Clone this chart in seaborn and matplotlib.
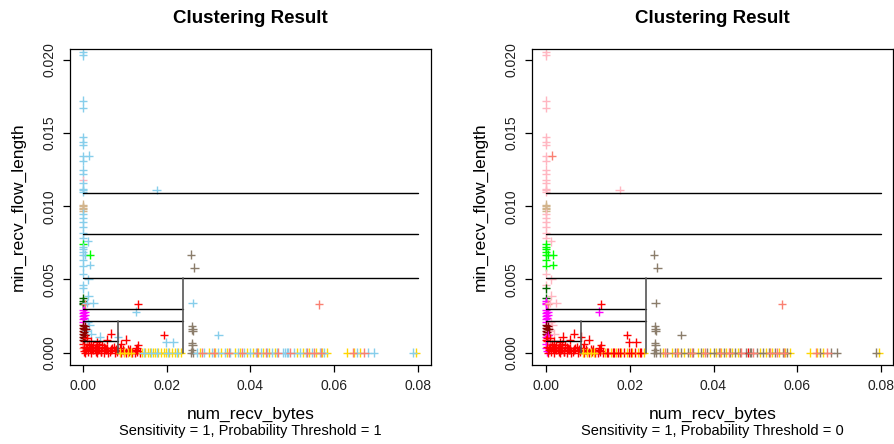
import matplotlib
matplotlib.use("Agg")
import matplotlib.pyplot as plt
import seaborn as sns
import pandas as pd

# ---------------- data ----------------
# points in the x = 0 column and the upper part of the plot
upper_x = [0, 0, 0, 0, 0, 0, 0, 0, 0.0014, 0, 0, 0, 0, 0, 0, 0, 0, 0.0176,
           0, 0, 0, 0, 0, 0, 0, 0, 0, 0, 0, 0.0011,
           0, 0, 0, 0, 0.0005, 0, 0.0017, 0, 0.0017, 0, 0, 0.0013, 0, 0, 0.0013]
upper_y = [0.0205, 0.0203, 0.0172, 0.0167, 0.0147, 0.0144, 0.0142, 0.0134, 0.01345, 0.0131,
           0.0125, 0.0122, 0.0118, 0.01155, 0.0112, 0.0111, 0.0110, 0.0111,
           0.0101, 0.0100, 0.0099, 0.0098, 0.0097, 0.0095, 0.0092, 0.0089, 0.0086, 0.00815, 0.0078, 0.0076,
           0.0074, 0.0072, 0.0071, 0.0069, 0.0067, 0.0067, 0.0067, 0.0063, 0.0060, 0.0059, 0.0054,
           0.0050, 0.0046, 0.0044, 0.0039]
upper_c1 = ["SB", "SB", "SB", "SB", "SB", "SB", "SB", "SB", "SB", "SB", "SB", "SB", "PK", "SB", "SB", "SB", "SB", "SB",
            "TN", "TN", "TN", "TN", "TN", "SB", "SB", "SB", "SB", "SB", "SB", "SB",
            "GR", "SB", "SB", "SB", "SB", "SB", "GR", "SB", "SB", "SB", "SB", "SB", "SB", "SB", "SB"]
upper_c0 = ["PK", "PK", "PK", "PK", "PK", "PK", "PK", "PK", "SA", "PK", "PK", "PK", "PK", "PK", "PK", "PK", "PK", "PK",
            "TN", "TN", "TN", "TN", "TN", "PK", "PK", "PK", "PK", "PK", "PK", "PK",
            "GR", "GR", "GR", "GR", "GR", "GR", "GR", "GR", "GR", "GR", "PK", "PK", "PK", "DG", "PK"]

# points in the lower-left region (below the third split)
lower_x = [0, 0, 0, 0, 0.0005, 0.0009, 0.0025, 0.0131, 0.0127, 0.0262,
           0, 0, 0, 0, 0, 0.0012, 0.0015, 0.0003, 0.0002, 0.0004,
           0, 0, 0.0003, 0, 0, 0.0003, 0, 0, 0.0008, 0.002, 0.004, 0.0084,
           0.0004, 0.0002, 0.0005, 0.0003, 0.0006, 0.0002,
           0.0258, 0.0266, 0.026, 0.0261, 0.0262, 0.026, 0.0261, 0.026, 0.0258, 0.0263,
           0.0323, 0.0198, 0.0216, 0.0193, 0.0564,
           0.0067, 0.0057, 0.0102, 0.0091, 0.0131, 0.0128, 0.0045, 0.0038, 0.0030, 0.0020,
           0.0010, 0.0015, 0, 0, 0.0003, 0.0025, 0.0033, 0.0052, 0.0074, 0.0113]
lower_y = [0.0037, 0.0035, 0.0034, 0.0033, 0.0033, 0.0034, 0.0034, 0.0033, 0.0028, 0.0034,
           0.0029, 0.0027, 0.0025, 0.0023, 0.0021, 0.0021, 0.0019, 0.0028, 0.0024, 0.0026,
           0.0019, 0.0017, 0.0016, 0.0015, 0.0013, 0.0012, 0.0011, 0.0009, 0.0015, 0.0013, 0.0011, 0.0011,
           0.0018, 0.0014, 0.0012, 0.0010, 0.0016, 0.0008,
           0.0067, 0.0058, 0.0018, 0.0016, 0.0015, 0.00065, 0.0005, 0.0002, 0.0, 0.0,
           0.0012, 0.0007, 0.0007, 0.0012, 0.0033,
           0.0013, 0.0009, 0.0009, 0.0006, 0.0005, 0.0003, 0.0005, 0.0006, 0.0004, 0.0008,
           0.0010, 0.0006, 0.0006, 0.0003, 0.0001, 0.0005, 0.0007, 0.0003, 0.0004, 0.0002]
lower_c1 = ["DG", "DG", "DG", "DG", "SA", "SB", "SB", "RD", "SB", "SB",
            "MG", "MG", "MG", "MG", "MG", "SB", "SB", "MG", "MG", "MG",
            "DR", "DR", "DR", "DR", "DR", "DR", "DR", "DR", "SB", "SB", "SB", "SB",
            "DR", "DR", "DR", "DR", "DR", "DR",
            "BG", "BG", "BG", "BG", "BG", "BG", "BG", "BG", "BG", "BG",
            "SB", "SB", "SB", "RD", "SA",
            "RD", "RD", "RD", "RD", "RD", "RD", "RD", "RD", "RD", "RD",
            "RD", "RD", "RD", "SA", "RD", "RD", "RD", "RD", "RD", "RD"]
lower_c0 = ["DG", "MG", "MG", "MG", "SA", "PK", "PK", "RD", "MG", "BG",
            "MG", "MG", "MG", "MG", "MG", "PK", "PK", "MG", "MG", "MG",
            "DR", "DR", "DR", "DR", "DR", "DR", "MG", "RD", "PK", "PK", "RD", "RD",
            "DR", "DR", "MG", "RD", "DR", "RD",
            "BG", "BG", "BG", "BG", "BG", "BG", "BG", "BG", "BG", "BG",
            "BG", "RD", "RD", "RD", "SA",
            "RD", "RD", "RD", "RD", "RD", "RD", "RD", "RD", "RD", "RD",
            "RD", "RD", "MG", "MG", "MG", "RD", "RD", "RD", "RD", "RD"]

# dense red strip near the origin
red_x = [0.0005, 0.0008, 0.0012, 0.0016, 0.002, 0.0025, 0.003, 0.0034, 0.0039, 0.0044,
         0.0049, 0.0054, 0.006, 0.0065, 0.007, 0.0076, 0.0082, 0.009, 0.0096, 0.0102,
         0.011, 0.0117, 0.0123, 0.013, 0.0136, 0.001, 0.0022, 0.0036, 0.005, 0.0068, 0.0088, 0.0108,
         0.0003, 0.0007, 0.0014, 0.0019, 0.0028, 0.0042, 0.0057, 0.0079, 0.0099, 0.0127]
red_y = [0.0, 0.0002, 0.0001, 0.0003, 0.0, 0.0002, 0.0001, 0.0, 0.0003, 0.0001,
         0.0, 0.0002, 0.0, 0.0001, 0.0003, 0.0, 0.0001, 0.0, 0.0002, 0.0,
         0.0001, 0.0, 0.0, 0.0001, 0.0, 0.0004, 0.0003, 0.0002, 0.0004, 0.0002, 0.0003, 0.0002,
         0.0004, 0.0003, 0.0005, 0.0002, 0.0003, 0.0001, 0.0003, 0.0002, 0.0001, 0.0002]

# points along the bottom (min_recv_flow_length ~ 0)
gold_x = [0.0088, 0.0097, 0.0108, 0.0115, 0.0142, 0.0148, 0.0155, 0.016, 0.0166, 0.0172,
          0.018, 0.0186, 0.0193, 0.0199, 0.0206, 0.0213, 0.022, 0.0228, 0.0234, 0.028,
          0.03, 0.0316, 0.033, 0.0345, 0.0362, 0.0375, 0.0392, 0.0405, 0.0418, 0.043,
          0.0445, 0.0458, 0.051, 0.0525, 0.054, 0.0556, 0.057, 0.0582, 0.063, 0.0648,
          0.0662, 0.0795]
gold_c0 = ["GD", "GD", "GD", "GD", "GD", "RD", "GD", "RD", "GD", "RD",
           "GD", "RD", "GD", "RD", "GD", "RD", "GD", "RD", "GD", "GD",
           "GD", "GD", "GD", "GD", "GD", "GD", "GD", "GD", "GD", "GD",
           "GD", "GD", "GD", "GD", "GD", "GD", "GD", "GD", "GD", "GD",
           "GD", "GD"]
sky_x = [0.0145, 0.0163, 0.0177, 0.0202, 0.0225, 0.0272, 0.0288, 0.0308, 0.0322, 0.0338,
         0.0352, 0.037, 0.0385, 0.04, 0.0412, 0.0425, 0.044, 0.0452, 0.0463, 0.0478,
         0.0482, 0.0487, 0.049, 0.0505, 0.0518, 0.0533, 0.0548, 0.0565, 0.0575, 0.0655,
         0.068, 0.0695, 0.0788]
sky_c0 = ["RD", "RD", "RD", "RD", "RD", "BG", "BG", "BG", "BG", "BG",
          "BG", "BG", "BG", "BG", "BG", "BG", "BG", "BG", "BG", "BG",
          "RD", "BG", "BG", "BG", "BG", "BG", "BG", "BG", "BG", "BG",
          "BG", "BG", "BG"]
salmon_x = [0.0285, 0.0312, 0.0348, 0.038, 0.0415, 0.0438, 0.0466, 0.0495, 0.0535,
            0.0552, 0.0568, 0.0645, 0.0672]

# rpart partition splits: (y, x_from, x_to) and (x, y_from, y_to)
h_splits = [(0.01088, 0.0, 0.0799), (0.0081, 0.0, 0.0799), (0.00512, 0.0, 0.0799),
            (0.00296, 0.0, 0.0239), (0.00214, 0.0, 0.0239), (0.00082, 0.0, 0.0084)]
v_splits = [(0.0239, 0.0, 0.00512), (0.0084, 0.0, 0.00214)]

palette = {"SB": "#87CEEB", "PK": "#FFB6C1", "RD": "#FF0000", "GD": "#FFD700",
           "SA": "#FA8072", "TN": "#D2B48C", "GR": "#00FF00", "DG": "#006400",
           "MG": "#FF00FF", "DR": "#8B0000", "BG": "#8B7D6B"}

subtitles = ["Sensitivity = 1, Probability Threshold = 1",
             "Sensitivity = 1, Probability Threshold = 0"]

# ---------------- build table ----------------
xs = upper_x + lower_x + red_x + gold_x + sky_x + salmon_x
ys = (upper_y + lower_y + red_y + [0.0] * len(gold_x) + [0.0] * len(sky_x)
      + [0.0] * len(salmon_x))
c1 = (upper_c1 + lower_c1 + ["RD"] * len(red_x) + ["GD"] * len(gold_x)
      + ["SB"] * len(sky_x) + ["SA"] * len(salmon_x))
c0 = (upper_c0 + lower_c0 + ["RD"] * len(red_x) + gold_c0 + sky_c0
      + ["SA"] * len(salmon_x))
df = pd.DataFrame({"num_recv_bytes": xs, "min_recv_flow_length": ys,
                   "c1": c1, "c0": c0})

# ---------------- plot ----------------
sns.set_style("white")
plt.rcParams["font.family"] = ["Liberation Sans", "DejaVu Sans"]
for k in ["text.color", "axes.labelcolor", "xtick.color", "ytick.color"]:
    plt.rcParams[k] = "black"

W, H = 895, 444
fig = plt.figure(figsize=(W / 100, H / 100), dpi=100)
boxes = [(70, 431.3), (532, 893.3)]
zero_px = [83, 546]
scale = 4187.5  # px per unit x
top, bottom = 49, 364.7
axes = []
for (l, r) in boxes:
    axes.append(fig.add_axes([l / W, 1 - bottom / H, (r - l) / W, (bottom - top) / H]))

for i, (ax, hue) in enumerate(zip(axes, ["c1", "c0"])):
    sns.scatterplot(data=df, x="num_recv_bytes", y="min_recv_flow_length", hue=hue,
                    palette=palette, marker="+", s=38, linewidth=1.0, legend=False,
                    ax=ax, zorder=2)
    for (yv, x0, x1) in h_splits:
        ax.plot([x0, x1], [yv, yv], color="black", lw=1.0, zorder=3)
    for (xv, y0, y1) in v_splits:
        ax.plot([xv, xv], [y0, y1], color="#555555", lw=1.2, zorder=3)
    l, r = boxes[i]
    ax.set_xlim((l - zero_px[i]) / scale, (r - zero_px[i]) / scale)
    ax.set_ylim(-0.00082, 0.02073)
    ax.set_xticks([0.0, 0.02, 0.04, 0.06, 0.08])
    ax.set_xticklabels(["0.00", "0.02", "0.04", "0.06", "0.08"])
    ax.set_yticks([0.0, 0.005, 0.01, 0.015, 0.02])
    ax.set_yticklabels(["0.000", "0.005", "0.010", "0.015", "0.020"],
                       rotation=90, va="center")
    ax.tick_params(axis="both", direction="out", length=5, width=0.9,
                   color="black", labelcolor="#222222", labelsize=10, pad=5,
                   bottom=True, left=True)
    for sp in ax.spines.values():
        sp.set_color("black")
        sp.set_linewidth(0.9)
    ax.set_xlabel("")
    ax.set_ylabel("")
    ax.text(0.5, 1.098, "Clustering Result", transform=ax.transAxes,
            ha="center", va="center", fontsize=13.5, fontweight="bold")
    ax.text(0.5, -0.157, "num_recv_bytes", transform=ax.transAxes,
            ha="center", va="center", fontsize=12.5)
    ax.text(0.5, -0.211, subtitles[i], transform=ax.transAxes,
            ha="center", va="center", fontsize=10.5)
    ax.text(-0.144, 0.5, "min_recv_flow_length", transform=ax.transAxes,
            ha="center", va="center", rotation=90, fontsize=12.5)

fig.savefig("out.png", dpi=100)
